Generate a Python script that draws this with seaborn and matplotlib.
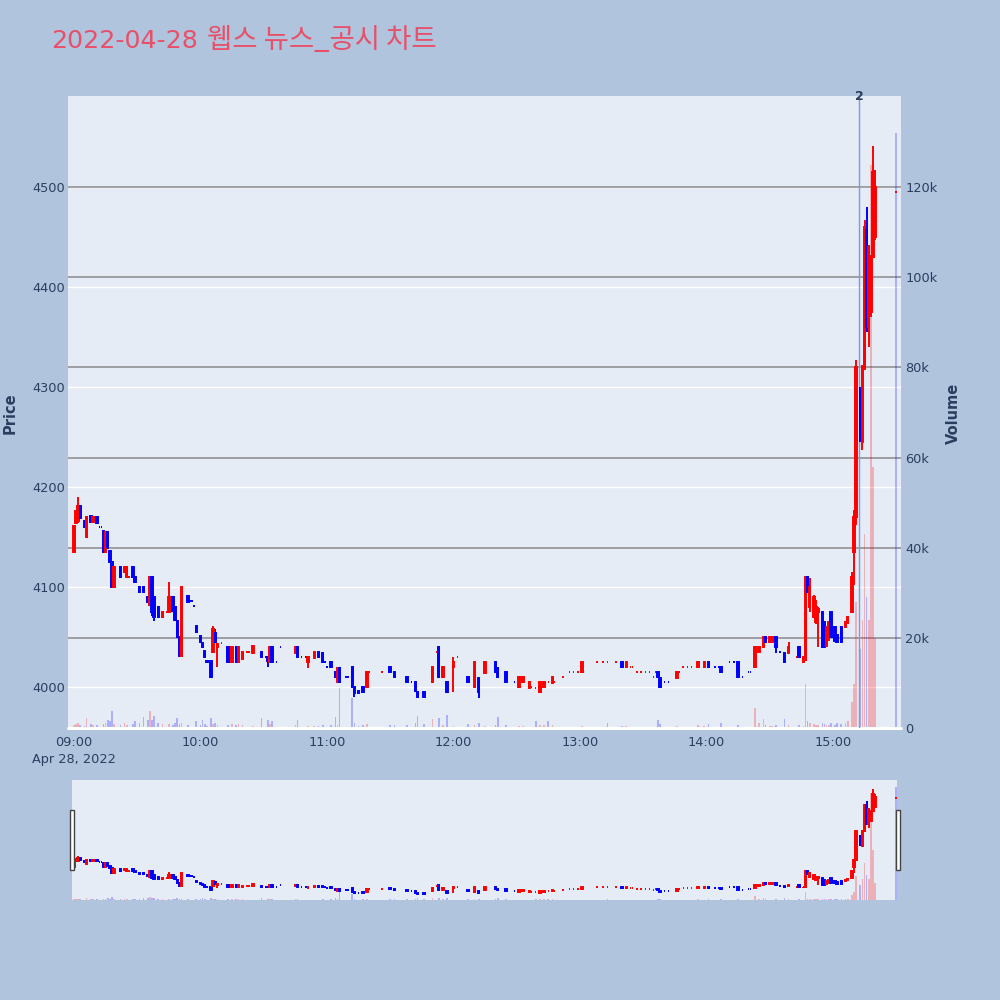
import matplotlib
matplotlib.use("Agg")
import matplotlib.pyplot as plt
import matplotlib.transforms as mtransforms
from matplotlib.patches import Rectangle
import numpy as np
import pandas as pd
import seaborn as sns

# ---------------- data (minutes after 09:00, 1-minute candles) ----------------
minutes = [0, 1, 2, 3, 5, 6, 8, 9, 11, 12, 13, 14, 15, 16, 17, 18, 19, 22, 24, 25,
           26, 28, 29, 31, 33, 35, 36, 37, 38, 40, 42, 44, 45, 47, 48, 49, 50, 51, 54, 55,
           56, 57, 58, 60, 61, 62, 63, 65, 66, 67, 68, 70, 73, 75, 77, 78, 80, 82, 83, 85,
           89, 91, 92, 93, 94, 96, 98, 105, 106, 108, 110, 111, 114, 116, 118, 119, 120, 122, 124, 125,
           126, 129, 130, 132, 133, 135, 137, 139, 140, 146, 150, 152, 158, 160, 162, 163, 166, 170, 172, 173,
           175, 177, 180, 182, 187, 190, 192, 195, 200, 201, 205, 209, 211, 213, 216, 217, 219, 221, 223, 225,
           227, 228, 232, 235, 237, 239, 241, 248, 251, 253, 257, 260, 262, 264, 265, 267, 269, 271, 273, 275,
           276, 277, 278, 280, 282, 286, 287, 289, 291, 293, 296, 299, 301, 304, 306, 307, 311, 313, 315, 317,
           320, 321, 323, 325, 327, 328, 330, 331, 333, 335, 337, 339, 343, 344, 346, 347, 348, 349, 351, 352,
           353, 355, 356, 357, 358, 359, 361, 362, 364, 366, 367, 369, 370, 371, 373, 374, 375, 376, 377, 378,
           379, 380, 390]
opens = [4135, 4164, 4166, 4181, 4166, 4150, 4171, 4165, 4170, 4160, 4160, 4156, 4135, 4155, 4136, 4125, 4100, 4120, 4115, 4110,
         4110, 4120, 4110, 4100, 4100, 4090, 4082, 4110, 4090, 4080, 4070, 4075, 4075, 4090, 4080, 4066, 4050, 4031, 4091, 4086,
         4086, 4081, 4061, 4051, 4044, 4036, 4026, 4026, 4035, 4054, 4040, 4044, 4040, 4025, 4040, 4025, 4028, 4035, 4035, 4034,
         4035, 4030, 4030, 4025, 4040, 4025, 4040, 4034, 4040, 4030, 4030, 4025, 4029, 4035, 4034, 4025, 4020, 4025, 4015, 4005,
         4019, 4010, 4010, 4020, 4000, 3996, 4000, 4000, 4015, 4015, 4020, 4015, 4010, 4005, 4005, 3995, 3995, 4005, 4035, 4040,
         4010, 4005, 4020, 4030, 4010, 4000, 4009, 4014, 4025, 4019, 4015, 4005, 4000, 4005, 3999, 4000, 3999, 3995, 4000, 4005,
         4004, 4005, 4010, 4015, 4015, 4015, 4015, 4025, 4025, 4025, 4025, 4025, 4020, 4020, 4020, 4015, 4015, 4015, 4015, 4010,
         4015, 4015, 4009, 4005, 4005, 4009, 4015, 4020, 4020, 4020, 4020, 4020, 4025, 4020, 4020, 4020, 4025, 4025, 4025, 4010,
         4015, 4015, 4020, 4035, 4040, 4050, 4045, 4045, 4050, 4035, 4034, 4034, 4030, 4040, 4025, 4030, 4110, 4080, 4070, 4065,
         4075, 4075, 4065, 4041, 4047, 4075, 4060, 4052, 4060, 4060, 4064, 4075, 4135, 4170, 4297, 4245, 4320, 4457, 4360, 4375,
         4430, 4450, 4495]
highs = [4162, 4176, 4190, 4181, 4166, 4171, 4171, 4171, 4171, 4160, 4160, 4156, 4156, 4156, 4136, 4126, 4121, 4121, 4121, 4121,
         4111, 4121, 4111, 4101, 4101, 4091, 4111, 4111, 4091, 4081, 4076, 4075, 4105, 4091, 4081, 4066, 4050, 4101, 4091, 4086,
         4086, 4081, 4061, 4051, 4044, 4036, 4026, 4026, 4061, 4058, 4044, 4044, 4040, 4040, 4041, 4041, 4035, 4035, 4035, 4041,
         4035, 4030, 4030, 4041, 4041, 4025, 4040, 4041, 4041, 4030, 4030, 4031, 4035, 4035, 4035, 4025, 4020, 4025, 4015, 4020,
         4020, 4010, 4010, 4020, 4001, 3996, 4001, 4015, 4015, 4015, 4020, 4015, 4010, 4005, 4005, 3995, 3995, 4020, 4035, 4040,
         4020, 4005, 4030, 4030, 4010, 4025, 4009, 4025, 4025, 4020, 4015, 4005, 4010, 4010, 4005, 4000, 3999, 4005, 4005, 4005,
         4010, 4005, 4010, 4015, 4015, 4015, 4025, 4025, 4025, 4025, 4025, 4025, 4025, 4020, 4020, 4015, 4015, 4015, 4015, 4010,
         4015, 4015, 4009, 4005, 4005, 4015, 4015, 4020, 4020, 4020, 4025, 4025, 4025, 4020, 4020, 4021, 4025, 4025, 4025, 4010,
         4015, 4015, 4040, 4040, 4050, 4050, 4050, 4050, 4050, 4035, 4034, 4045, 4030, 4041, 4030, 4111, 4111, 4109, 4092, 4087,
         4080, 4075, 4065, 4060, 4065, 4075, 4060, 4052, 4060, 4065, 4070, 4115, 4177, 4327, 4300, 4322, 4467, 4480, 4442, 4432,
         4541, 4517, 4495]
lows = [4134, 4164, 4164, 4169, 4159, 4149, 4164, 4164, 4164, 4160, 4160, 4134, 4134, 4138, 4124, 4099, 4099, 4109, 4114, 4109,
        4109, 4109, 4104, 4094, 4094, 4084, 4081, 4071, 4066, 4069, 4069, 4075, 4074, 4075, 4066, 4049, 4030, 4030, 4084, 4086,
        4086, 4081, 4054, 4044, 4039, 4029, 4025, 4009, 4034, 4044, 4020, 4044, 4024, 4024, 4024, 4024, 4028, 4035, 4035, 4034,
        4030, 4030, 4020, 4024, 4024, 4025, 4040, 4034, 4029, 4030, 4030, 4019, 4029, 4029, 4024, 4025, 4020, 4019, 4009, 4004,
        4004, 4010, 4010, 3999, 3990, 3994, 3994, 3999, 4015, 4015, 4014, 4009, 4004, 4005, 3995, 3989, 3989, 4004, 4035, 4009,
        4009, 3994, 3995, 4030, 4004, 3999, 3989, 4014, 4014, 4009, 4004, 4005, 3999, 4004, 3999, 4000, 3999, 3994, 4000, 4005,
        4004, 4005, 4010, 4015, 4015, 4015, 4014, 4025, 4025, 4025, 4025, 4019, 4019, 4020, 4020, 4015, 4015, 4015, 4015, 4010,
        4015, 4009, 3999, 4005, 4005, 4009, 4015, 4020, 4020, 4020, 4020, 4019, 4019, 4020, 4020, 4014, 4025, 4025, 4009, 4010,
        4015, 4015, 4019, 4035, 4040, 4044, 4044, 4045, 4034, 4035, 4024, 4034, 4030, 4029, 4024, 4026, 4094, 4075, 4069, 4063,
        4040, 4039, 4039, 4041, 4047, 4050, 4045, 4045, 4044, 4060, 4064, 4074, 4102, 4162, 4245, 4237, 4317, 4355, 4340, 4370,
        4430, 4447, 4495]
closes = [4161, 4176, 4181, 4169, 4160, 4170, 4165, 4170, 4164, 4160, 4160, 4135, 4155, 4140, 4125, 4100, 4120, 4110, 4120, 4120,
          4110, 4110, 4105, 4095, 4095, 4085, 4110, 4075, 4070, 4070, 4075, 4075, 4090, 4076, 4067, 4050, 4045, 4100, 4085, 4086,
          4086, 4081, 4055, 4045, 4040, 4030, 4025, 4010, 4058, 4045, 4043, 4044, 4025, 4040, 4025, 4040, 4035, 4035, 4035, 4041,
          4030, 4030, 4026, 4040, 4025, 4025, 4040, 4040, 4030, 4030, 4030, 4030, 4035, 4030, 4025, 4025, 4020, 4020, 4010, 4019,
          4005, 4010, 4010, 4000, 3994, 3994, 3995, 4015, 4015, 4015, 4015, 4010, 4005, 4005, 3996, 3990, 3990, 4020, 4035, 4010,
          4020, 3995, 4025, 4030, 4005, 4025, 3995, 4025, 4015, 4010, 4005, 4005, 4010, 4010, 4005, 4000, 3999, 4005, 4005, 4005,
          4010, 4005, 4010, 4015, 4015, 4015, 4025, 4025, 4025, 4025, 4025, 4020, 4025, 4020, 4020, 4015, 4015, 4015, 4015, 4010,
          4015, 4010, 4000, 4005, 4005, 4015, 4015, 4020, 4020, 4020, 4025, 4025, 4020, 4020, 4020, 4015, 4025, 4025, 4010, 4010,
          4015, 4015, 4040, 4040, 4050, 4045, 4050, 4050, 4040, 4035, 4025, 4040, 4030, 4030, 4030, 4110, 4095, 4100, 4090, 4080,
          4078, 4040, 4040, 4060, 4065, 4050, 4046, 4045, 4045, 4065, 4070, 4110, 4170, 4320, 4250, 4320, 4460, 4360, 4440, 4430,
          4515, 4500, 4495]
volumes = [700, 900, 1000, 600, 500, 2300, 800, 600, 700, 300, 300, 900, 1200, 1800, 1500, 3800, 900, 600, 1000, 700,
           300, 800, 1500, 1200, 2500, 1800, 3800, 1800, 2600, 1200, 800, 300, 900, 700, 1000, 2300, 800, 1000, 600, 300,
           300, 300, 1500, 700, 1800, 800, 500, 2300, 900, 1200, 600, 300, 700, 800, 600, 900, 700, 300, 300, 400,
           2200, 300, 1700, 800, 1500, 300, 200, 600, 1700, 300, 300, 400, 400, 500, 600, 300, 300, 700, 2500, 600,
           8900, 300, 300, 6600, 1200, 500, 600, 800, 300, 300, 600, 700, 600, 300, 1200, 2700, 900, 2000, 300, 2200,
           600, 2800, 400, 300, 800, 700, 1000, 400, 600, 2500, 600, 300, 500, 400, 300, 300, 1500, 600, 600, 1500,
           600, 300, 200, 200, 200, 200, 400, 200, 200, 1000, 200, 500, 500, 300, 300, 300, 300, 300, 300, 300,
           300, 1700, 800, 300, 300, 500, 300, 300, 300, 300, 600, 500, 900, 300, 300, 1000, 300, 300, 700, 300,
           300, 300, 4400, 1000, 2000, 600, 500, 500, 700, 300, 2000, 600, 300, 700, 500, 9800, 1500, 1000, 800, 600,
           700, 1000, 800, 600, 600, 1200, 700, 1000, 800, 1000, 1500, 5800, 9700, 28000, 17500, 24000, 43000, 29000, 24000, 125000,
           58000, 20000, 132000]

price_ticks = [4000, 4100, 4200, 4300, 4400, 4500]
volume_ticks = [0, 20000, 40000, 60000, 80000, 100000, 120000]
volume_tick_labels = ["0", "20k", "40k", "60k", "80k", "100k", "120k"]
time_ticks = [0, 60, 120, 180, 240, 300, 360]
time_tick_labels = ["09:00\nApr 28, 2022", "10:00", "11:00", "12:00", "13:00", "14:00", "15:00"]
news_minute = 372.4
news_label = "2"
title_date = "2022-04-28"
title_name = "웹스 뉴스_공시 차트"

df = pd.DataFrame({"t": minutes, "open": opens, "high": highs, "low": lows,
                   "close": closes, "volume": volumes})

# candle direction (plotly rule: equal open/close keeps previous direction)
dirs = []
prev = True
for o, c in zip(df["open"], df["close"]):
    if c > o:
        prev = True
    elif c < o:
        prev = False
    dirs.append(prev)
df["up"] = dirs
df["vol_up"] = df["close"] > df["open"]

UP, DOWN = "#FF0000", "#0000FF"
BG = "#B0C4DE"
PLOT_BG = "#E5ECF6"
TXT = "#2a3f5f"
TITLE_C = "#E8506A"

sns.set_theme(style="white", rc={"axes.facecolor": PLOT_BG, "figure.facecolor": BG})
plt.rcParams["font.family"] = ["DejaVu Sans", "Noto Sans CJK KR"]

PRICE_LIM = (3959, 4591)
VOL_LIM = (0, 140200)


def draw_candles(ax, data):
    cols = [UP if u else DOWN for u in data["up"]]
    ax.vlines(data["t"], data["low"], data["high"], colors=cols, lw=1.4, zorder=3)
    bottoms = np.minimum(data["open"], data["close"])
    heights = np.abs(data["close"] - data["open"])
    ax.bar(data["t"], heights, bottom=bottoms, width=0.7, color=cols,
           edgecolor=cols, linewidth=1.4, zorder=4)


def draw_volume(ax, data):
    cols = [(1, 0, 0, 0.25) if u else (0, 0, 1, 0.25) for u in data["vol_up"]]
    ax.bar(data["t"], data["volume"], width=0.8, color=cols, linewidth=0, zorder=2)


fig = plt.figure(figsize=(10, 10), dpi=100, facecolor=BG)

# ---------------- main chart ----------------
ax_p = fig.add_axes([0.068, 0.272, 0.833, 0.632])
ax_p.set_facecolor(PLOT_BG)
ax_p.set_xlim(-2.85, 392.3)
ax_p.set_ylim(*PRICE_LIM)
ax_p.set_yticks(price_ticks)
ax_p.set_yticklabels([str(p) for p in price_ticks])
ax_p.grid(axis="y", color="white", lw=1.0)
ax_p.grid(axis="x", visible=False)
ax_p.set_xticks(time_ticks)
ax_p.set_xticklabels(time_tick_labels, linespacing=1.4)
ax_p.tick_params(axis="y", length=0, labelsize=9.3, labelcolor=TXT, pad=2)
ax_p.tick_params(axis="x", length=0, labelsize=9.3, labelcolor=TXT, pad=6)

ax_v = ax_p.twinx()
ax_v.patch.set_visible(False)
ax_v.set_ylim(*VOL_LIM)
ax_v.set_yticks(volume_ticks)
ax_v.set_yticklabels(volume_tick_labels)
ax_v.grid(axis="y", color="#8a8a8a", lw=1.1)
ax_v.grid(axis="x", visible=False)
ax_v.tick_params(axis="y", length=0, labelsize=9.3, labelcolor=TXT, pad=3)
draw_volume(ax_v, df)
ax_v.axhline(0, color="white", lw=2.2, zorder=5, clip_on=False)

ax_c = ax_p.twinx()
ax_c.patch.set_visible(False)
ax_c.set_ylim(*PRICE_LIM)
ax_c.set_yticks([])
ax_c.grid(False)
draw_candles(ax_c, df)
ax_c.axvline(news_minute, color="#7d98e6", lw=1.0, zorder=2)
trans = mtransforms.blended_transform_factory(ax_c.transData, ax_c.transAxes)
ax_c.text(news_minute, 1.0, news_label, transform=trans, ha="center", va="center",
          fontsize=9, color=TXT, fontweight="bold", zorder=6)

for a in (ax_p, ax_v, ax_c):
    sns.despine(ax=a, left=True, right=True, top=True, bottom=True)

fig.text(0.010, 0.587, "Price", rotation=90, ha="center", va="center",
         fontsize=10.5, color=TXT, fontweight="bold")
fig.text(0.953, 0.587, "Volume", rotation=90, ha="center", va="center",
         fontsize=10.5, color=TXT, fontweight="bold")
fig.text(0.051, 0.959, title_date, ha="left", va="center", fontsize=18.2,
         color=TITLE_C, family=["DejaVu Sans"])
fig.text(0.207, 0.959, title_name, ha="left", va="center", fontsize=19.8,
         color=TITLE_C, family=["Noto Sans CJK KR", "DejaVu Sans"])

# ---------------- range slider ----------------
ax_r = fig.add_axes([0.072, 0.100, 0.825, 0.120])
ax_r.set_facecolor(PLOT_BG)
ax_r.set_xlim(-0.95, 390.4)
ax_r.set_ylim(*VOL_LIM)
ax_r.set_xticks([])
ax_r.set_yticks([])
ax_r.grid(False)
draw_volume(ax_r, df)
ax_rc = ax_r.twinx()
ax_rc.patch.set_visible(False)
ax_rc.set_ylim(*PRICE_LIM)
ax_rc.set_yticks([])
ax_rc.grid(False)
draw_candles(ax_rc, df)
for a in (ax_r, ax_rc):
    sns.despine(ax=a, left=True, right=True, top=True, bottom=True)

for x0 in (0.0695, 0.8955):
    fig.patches.append(Rectangle((x0, 0.130), 0.004, 0.060, transform=fig.transFigure,
                                 facecolor="white", edgecolor="#444444", lw=1.0, zorder=10))

fig.savefig("out.png", dpi=100, facecolor=BG)
